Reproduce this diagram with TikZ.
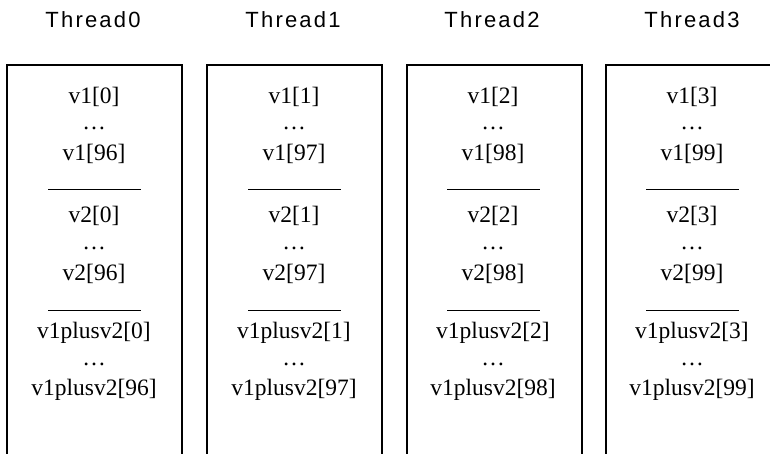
\documentclass[tikz,border=0pt]{standalone}
\usepackage{fontspec}
\setmainfont{Liberation Serif}
\newfontfamily\threadfont[LetterSpace=10]{Liberation Sans}
\tikzset{threadLabel/.style={shape=rectangle, inner sep=0pt, anchor=base, font=\threadfont\fontsize{22}{22}\selectfont}}
\tikzset{cellText/.style={shape=rectangle, inner sep=0pt, anchor=base, font=\fontsize{23.5}{23.5}\selectfont}}
\tikzset{threadBox/.style={line width=1.6pt}}
\tikzset{separator/.style={line width=0.8pt}}

\begin{document}
\begin{tikzpicture}[x=1pt, y=-1pt]

\useasboundingbox (0,0) rectangle (770,453);
\clip (0,0) rectangle (770,453);

% Thread 0
\node[threadLabel] (head0) at (93,27) {Thread0};
\draw[threadBox] (7,470) -- (7,65) -- (182,65) -- (182,470);
\node[cellText] (v1first0) at (94,103) {v1[0]};
\node[cellText] (v1dots0) at (94,129) {…};
\node[cellText] (v1last0) at (94,160) {v1[96]};
\draw[separator] (48,189) -- (141,189);
\node[cellText] (v2first0) at (94,222) {v2[0]};
\node[cellText] (v2dots0) at (94,249) {…};
\node[cellText] (v2last0) at (94,280) {v2[96]};
\draw[separator] (48,310) -- (141,310);
\node[cellText] (sumfirst0) at (94,338) {v1plusv2[0]};
\node[cellText] (sumdots0) at (94,365) {…};
\node[cellText] (sumlast0) at (94,395) {v1plusv2[96]};

% Thread 1
\node[threadLabel] (head1) at (293,27) {Thread1};
\draw[threadBox] (207,470) -- (207,65) -- (382,65) -- (382,470);
\node[cellText] (v1first1) at (294,103) {v1[1]};
\node[cellText] (v1dots1) at (294,129) {…};
\node[cellText] (v1last1) at (294,160) {v1[97]};
\draw[separator] (248,189) -- (341,189);
\node[cellText] (v2first1) at (294,222) {v2[1]};
\node[cellText] (v2dots1) at (294,249) {…};
\node[cellText] (v2last1) at (294,280) {v2[97]};
\draw[separator] (248,310) -- (341,310);
\node[cellText] (sumfirst1) at (294,338) {v1plusv2[1]};
\node[cellText] (sumdots1) at (294,365) {…};
\node[cellText] (sumlast1) at (294,395) {v1plusv2[97]};

% Thread 2
\node[threadLabel] (head2) at (492,27) {Thread2};
\draw[threadBox] (407,470) -- (407,65) -- (582,65) -- (582,470);
\node[cellText] (v1first2) at (493,103) {v1[2]};
\node[cellText] (v1dots2) at (493,129) {…};
\node[cellText] (v1last2) at (493,160) {v1[98]};
\draw[separator] (447,189) -- (540,189);
\node[cellText] (v2first2) at (493,222) {v2[2]};
\node[cellText] (v2dots2) at (493,249) {…};
\node[cellText] (v2last2) at (493,280) {v2[98]};
\draw[separator] (447,310) -- (540,310);
\node[cellText] (sumfirst2) at (493,338) {v1plusv2[2]};
\node[cellText] (sumdots2) at (493,365) {…};
\node[cellText] (sumlast2) at (493,395) {v1plusv2[98]};

% Thread 3 (right side runs off the page)
\node[threadLabel] (head3) at (692,27) {Thread3};
\draw[threadBox] (606,470) -- (606,65) -- (781,65) -- (781,470);
\node[cellText] (v1first3) at (692,103) {v1[3]};
\node[cellText] (v1dots3) at (692,129) {…};
\node[cellText] (v1last3) at (692,160) {v1[99]};
\draw[separator] (646,189) -- (739,189);
\node[cellText] (v2first3) at (692,222) {v2[3]};
\node[cellText] (v2dots3) at (692,249) {…};
\node[cellText] (v2last3) at (692,280) {v2[99]};
\draw[separator] (646,310) -- (739,310);
\node[cellText] (sumfirst3) at (692,338) {v1plusv2[3]};
\node[cellText] (sumdots3) at (692,365) {…};
\node[cellText] (sumlast3) at (692,395) {v1plusv2[99]};

\end{tikzpicture}
\end{document}
